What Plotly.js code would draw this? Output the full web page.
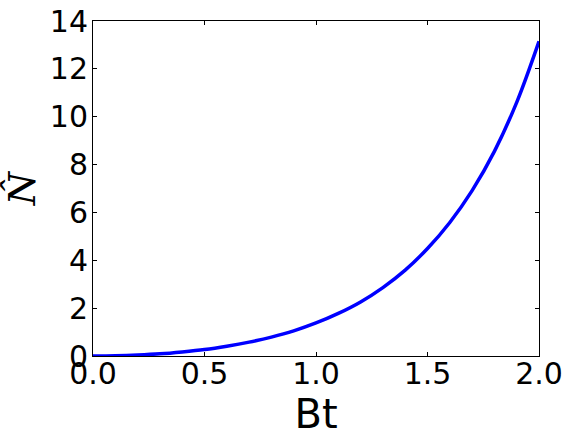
<!DOCTYPE html>
<html>
<head>
<meta charset="utf-8">
<script src="https://cdn.plot.ly/plotly-3.0.1.min.js"></script>
<style>
  html, body { margin: 0; padding: 0; background: #fff; }
  #chart { width: 568px; height: 441px; }
</style>
</head>
<body>
<div id="chart"></div>
<script>
// values
const bt = [0.0, 0.1, 0.2, 0.3, 0.4, 0.5, 0.6, 0.7, 0.8, 0.9, 1.0,
            1.1, 1.2, 1.3, 1.4, 1.5, 1.6, 1.7, 1.8, 1.9, 2.0];
const nHat = [0.0, 0.01, 0.04, 0.09, 0.17, 0.27, 0.41, 0.58, 0.79, 1.05, 1.38,
              1.78, 2.26, 2.86, 3.59, 4.49, 5.58, 6.91, 8.55, 10.6, 13.15];

const xTicks = [0.0, 0.5, 1.0, 1.5, 2.0];
const xTickText = ["0.0", "0.5", "1.0", "1.5", "2.0"];
const yTicks = [0, 2, 4, 6, 8, 10, 12, 14];

const trace = {
    x: bt,
    y: nHat,
    mode: 'lines',
    type: 'scatter',
    line: { color: 'rgb(0,0,255)', width: 3.5, shape: 'spline' },
    hoverinfo: 'skip'
};

const axisCommon = {
    showgrid: false,
    zeroline: false,
    showline: true,
    linecolor: '#000',
    linewidth: 1,
    mirror: 'ticks',
    ticks: 'inside',
    ticklen: 4,
    tickwidth: 1,
    tickcolor: '#000',
    tickfont: { family: 'DejaVu Sans', size: 30, color: '#000' }
};

const layout = {
    width: 568,
    height: 441,
    margin: { l: 93, r: 29, t: 21, b: 85 },
    paper_bgcolor: '#fff',
    plot_bgcolor: '#fff',
    showlegend: false,
    xaxis: Object.assign({}, axisCommon, {
        range: [0, 2],
        tickvals: xTicks,
        ticktext: xTickText,
        ticklabelstandoff: -9,
        title: { text: 'Bt', font: { family: 'DejaVu Sans', size: 40, color: '#000' }, standoff: 6 }
    }),
    yaxis: Object.assign({}, axisCommon, {
        range: [0, 14],
        tickvals: yTicks,
        ticklabelstandoff: -2,
        title: { text: '<i>N\u0302</i>', font: { family: 'DejaVu Serif', size: 38, color: '#000' }, standoff: 12 }
    })
};

Plotly.newPlot('chart', [trace], layout, { staticPlot: true });
</script>
</body>
</html>
